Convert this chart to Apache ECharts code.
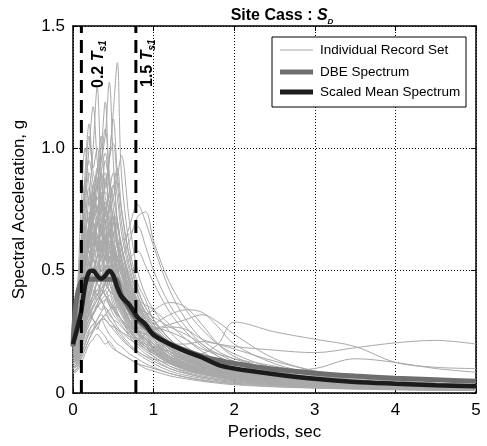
<!DOCTYPE html>
<html><head><meta charset="utf-8">
<script src="https://cdn.jsdelivr.net/npm/echarts@6/dist/echarts.min.js"></script>
<style>html,body{margin:0;padding:0;background:#fff}#c{width:487px;height:446px}</style>
</head><body><div id="c"></div>
<script>
const FONT = 'Liberation Sans, Arial, sans-serif';
// Periods (sec)
const T = [0,0.05,0.1,0.15,0.2,0.25,0.3,0.35,0.4,0.45,0.5,0.55,0.6,0.7,0.8,0.9,1.0,1.2,1.4,1.6,1.8,2.0,2.5,3.0,3.5,4.0,4.5,5.0];
// Individual records (Sa, g)
const recH1 = [0.22,0.26,0.35,0.45,0.5,0.62,0.7,0.8,0.72,0.95,1.15,1.35,0.9,0.6,0.45,0.38,0.3,0.22,0.16,0.12,0.1,0.08,0.06,0.045,0.035,0.03,0.025,0.02];
const recH2 = [0.25,0.3,0.42,0.55,0.6,0.75,0.85,0.95,1.05,1.27,0.95,0.7,0.6,0.45,0.35,0.3,0.26,0.19,0.15,0.12,0.1,0.085,0.06,0.045,0.035,0.03,0.025,0.02];
const recH3 = [0.2,0.25,0.45,0.65,0.8,1.0,1.25,0.9,0.75,0.65,0.55,0.5,0.45,0.35,0.3,0.26,0.22,0.16,0.12,0.1,0.08,0.07,0.05,0.04,0.03,0.025,0.02,0.018];
const recH4 = [0.18,0.22,0.35,0.5,0.7,0.85,0.9,1.0,1.19,0.85,0.7,0.6,0.5,0.4,0.32,0.27,0.23,0.17,0.13,0.11,0.09,0.075,0.055,0.04,0.032,0.027,0.022,0.018];
const recH5 = [0.24,0.3,0.55,0.8,1.0,1.17,0.95,0.8,0.7,0.6,0.55,0.45,0.4,0.32,0.26,0.22,0.19,0.14,0.11,0.09,0.075,0.065,0.045,0.035,0.028,0.023,0.019,0.016];
const recH6 = [0.3,0.35,0.6,0.9,1.1,0.9,0.85,0.7,0.6,0.55,0.5,0.42,0.38,0.3,0.24,0.2,0.17,0.13,0.1,0.085,0.07,0.06,0.045,0.035,0.028,0.024,0.02,0.017];
const recH7 = [0.2,0.24,0.4,0.55,0.65,0.8,0.9,1.05,0.8,0.75,0.6,0.55,0.5,0.42,0.36,0.3,0.25,0.18,0.14,0.11,0.09,0.08,0.06,0.045,0.035,0.03,0.025,0.02];
const recH8 = [0.15,0.18,0.28,0.4,0.5,0.6,0.7,0.75,0.85,0.95,1.12,0.9,0.75,0.55,0.42,0.35,0.3,0.22,0.17,0.13,0.11,0.09,0.065,0.05,0.04,0.033,0.027,0.022];
const recH9 = [0.28,0.4,0.75,1.0,0.85,0.7,0.6,0.5,0.48,0.42,0.38,0.33,0.3,0.24,0.2,0.17,0.15,0.11,0.09,0.075,0.065,0.055,0.04,0.03,0.024,0.02,0.017,0.015];
const recH10 = [0.16,0.2,0.3,0.38,0.45,0.5,0.6,0.65,0.7,0.75,0.8,0.88,0.97,0.7,0.5,0.4,0.34,0.25,0.19,0.15,0.12,0.1,0.07,0.055,0.045,0.038,0.03,0.025];
const recM1 = [0.22,0.28,0.45,0.6,0.7,0.8,0.92,0.75,0.65,0.55,0.5,0.45,0.4,0.32,0.26,0.22,0.19,0.14,0.11,0.09,0.075,0.065,0.045,0.035,0.028,0.023,0.019,0.016];
const recM2 = [0.2,0.25,0.4,0.5,0.62,0.7,0.75,0.85,0.9,0.7,0.6,0.5,0.45,0.38,0.3,0.25,0.21,0.15,0.12,0.1,0.08,0.07,0.05,0.04,0.032,0.026,0.021,0.018];
const recM3 = [0.12,0.15,0.25,0.35,0.45,0.55,0.6,0.7,0.75,0.8,0.85,0.7,0.6,0.45,0.35,0.3,0.26,0.19,0.15,0.12,0.1,0.085,0.06,0.045,0.035,0.03,0.025,0.02];
const recM4 = [0.25,0.3,0.5,0.7,0.8,0.7,0.65,0.6,0.55,0.5,0.45,0.4,0.35,0.28,0.23,0.19,0.16,0.12,0.095,0.08,0.065,0.055,0.04,0.03,0.024,0.02,0.017,0.014];
const recM5 = [0.18,0.22,0.35,0.45,0.55,0.65,0.7,0.68,0.6,0.65,0.72,0.6,0.5,0.38,0.3,0.26,0.22,0.17,0.13,0.11,0.09,0.075,0.055,0.042,0.034,0.028,0.023,0.019];
const recM6 = [0.14,0.17,0.25,0.35,0.4,0.5,0.55,0.62,0.65,0.6,0.58,0.55,0.52,0.4,0.32,0.27,0.24,0.18,0.14,0.11,0.095,0.08,0.06,0.045,0.036,0.03,0.025,0.021];
const recM7 = [0.3,0.35,0.55,0.75,0.9,0.8,0.7,0.6,0.5,0.45,0.4,0.35,0.32,0.26,0.21,0.18,0.15,0.11,0.085,0.07,0.06,0.05,0.037,0.028,0.022,0.018,0.015,0.013];
const recM8 = [0.2,0.24,0.35,0.5,0.6,0.65,0.7,0.8,0.82,0.78,0.65,0.55,0.48,0.38,0.31,0.26,0.22,0.16,0.125,0.1,0.085,0.072,0.052,0.04,0.032,0.026,0.022,0.018];
const recM9 = [0.1,0.12,0.2,0.3,0.38,0.45,0.5,0.55,0.62,0.7,0.65,0.6,0.55,0.45,0.37,0.31,0.27,0.2,0.16,0.13,0.11,0.09,0.065,0.05,0.04,0.033,0.028,0.023];
const recM10 = [0.22,0.27,0.42,0.55,0.65,0.6,0.68,0.72,0.6,0.5,0.45,0.4,0.37,0.3,0.25,0.21,0.18,0.13,0.1,0.085,0.07,0.06,0.045,0.034,0.027,0.022,0.019,0.016];
const recM11 = [0.26,0.32,0.5,0.62,0.58,0.55,0.5,0.48,0.45,0.42,0.4,0.36,0.33,0.27,0.22,0.19,0.17,0.13,0.1,0.085,0.07,0.06,0.045,0.035,0.028,0.023,0.019,0.016];
const recM12 = [0.16,0.19,0.3,0.42,0.5,0.58,0.62,0.6,0.55,0.6,0.65,0.68,0.6,0.48,0.38,0.32,0.27,0.2,0.15,0.12,0.1,0.085,0.062,0.048,0.038,0.031,0.026,0.022];
const recM13 = [0.19,0.23,0.38,0.52,0.6,0.68,0.6,0.55,0.58,0.52,0.45,0.38,0.34,0.28,0.24,0.21,0.19,0.15,0.12,0.1,0.085,0.072,0.055,0.042,0.034,0.028,0.023,0.019];
const recM14 = [0.13,0.16,0.24,0.32,0.4,0.46,0.52,0.58,0.6,0.66,0.6,0.52,0.45,0.36,0.3,0.26,0.23,0.17,0.13,0.11,0.09,0.075,0.055,0.042,0.034,0.028,0.023,0.019];
const recL1 = [0.1,0.12,0.18,0.25,0.3,0.35,0.38,0.4,0.42,0.38,0.35,0.32,0.3,0.25,0.21,0.18,0.16,0.12,0.095,0.08,0.065,0.055,0.04,0.03,0.024,0.02,0.017,0.014];
const recL2 = [0.12,0.14,0.2,0.28,0.32,0.3,0.28,0.3,0.32,0.3,0.28,0.26,0.24,0.2,0.17,0.15,0.13,0.1,0.08,0.065,0.055,0.047,0.035,0.027,0.022,0.018,0.015,0.013];
const recL3 = [0.15,0.18,0.26,0.35,0.42,0.48,0.45,0.42,0.4,0.36,0.32,0.3,0.28,0.23,0.19,0.16,0.14,0.1,0.08,0.065,0.055,0.046,0.034,0.026,0.021,0.017,0.014,0.012];
const recL4 = [0.11,0.13,0.19,0.24,0.28,0.32,0.36,0.4,0.45,0.5,0.48,0.44,0.4,0.32,0.26,0.22,0.19,0.14,0.11,0.09,0.075,0.062,0.045,0.035,0.028,0.023,0.019,0.016];
const recL5 = [0.14,0.16,0.22,0.3,0.36,0.4,0.42,0.38,0.35,0.33,0.3,0.27,0.25,0.22,0.2,0.18,0.16,0.13,0.1,0.085,0.07,0.06,0.043,0.033,0.026,0.021,0.018,0.015];
const recL6 = [0.17,0.2,0.3,0.4,0.45,0.42,0.4,0.38,0.34,0.3,0.28,0.25,0.23,0.19,0.16,0.14,0.12,0.09,0.072,0.06,0.05,0.043,0.032,0.025,0.02,0.016,0.014,0.012];
const recP1 = [0.15,0.17,0.22,0.28,0.32,0.35,0.38,0.42,0.45,0.5,0.52,0.55,0.58,0.68,0.77,0.7,0.6,0.42,0.3,0.22,0.17,0.14,0.09,0.065,0.05,0.04,0.034,0.028];
const recP2 = [0.12,0.14,0.2,0.26,0.3,0.32,0.36,0.4,0.42,0.45,0.48,0.5,0.55,0.62,0.72,0.74,0.62,0.45,0.34,0.26,0.2,0.16,0.1,0.07,0.055,0.045,0.038,0.03];
const recP3 = [0.18,0.21,0.28,0.35,0.4,0.45,0.5,0.48,0.5,0.55,0.58,0.6,0.62,0.65,0.68,0.6,0.5,0.36,0.27,0.2,0.16,0.13,0.085,0.06,0.047,0.038,0.032,0.026];
const recP4 = [0.14,0.16,0.22,0.28,0.33,0.38,0.4,0.45,0.5,0.52,0.5,0.5,0.52,0.55,0.58,0.52,0.45,0.33,0.25,0.19,0.15,0.12,0.08,0.058,0.045,0.037,0.03,0.025];
const recU1 = [0.1,0.12,0.16,0.2,0.24,0.26,0.28,0.3,0.32,0.34,0.35,0.35,0.34,0.32,0.3,0.32,0.34,0.37,0.35,0.28,0.2,0.15,0.09,0.065,0.05,0.04,0.033,0.028];
const recU2 = [0.12,0.14,0.2,0.25,0.3,0.32,0.35,0.38,0.4,0.42,0.4,0.38,0.35,0.3,0.27,0.26,0.28,0.32,0.34,0.33,0.27,0.2,0.12,0.08,0.06,0.048,0.04,0.033];
const recU3 = [0.08,0.1,0.14,0.18,0.22,0.25,0.28,0.3,0.3,0.28,0.27,0.26,0.25,0.23,0.22,0.24,0.26,0.28,0.3,0.32,0.29,0.24,0.14,0.09,0.065,0.05,0.04,0.034];
const recU4 = [0.16,0.18,0.25,0.32,0.36,0.4,0.45,0.48,0.5,0.45,0.42,0.4,0.38,0.33,0.3,0.28,0.26,0.27,0.26,0.22,0.2,0.18,0.13,0.09,0.065,0.05,0.04,0.034];
const recA = [0.14,0.16,0.22,0.3,0.35,0.4,0.42,0.45,0.4,0.38,0.35,0.32,0.3,0.25,0.22,0.2,0.19,0.17,0.15,0.16,0.2,0.29,0.25,0.22,0.19,0.125,0.105,0.1];
const recB = [0.12,0.14,0.2,0.26,0.3,0.33,0.35,0.37,0.38,0.36,0.34,0.32,0.3,0.27,0.25,0.24,0.23,0.2,0.2,0.21,0.2,0.19,0.175,0.165,0.185,0.205,0.215,0.2];
const recC = [0.1,0.12,0.17,0.22,0.26,0.28,0.3,0.32,0.3,0.28,0.26,0.24,0.22,0.19,0.17,0.15,0.14,0.12,0.11,0.1,0.095,0.09,0.09,0.1,0.14,0.125,0.1,0.085];
const recR1 = [0.2,0.26,0.42,0.58,0.52,0.66,0.6,0.74,0.62,0.55,0.6,0.5,0.42,0.34,0.27,0.23,0.2,0.15,0.115,0.095,0.08,0.068,0.05,0.038,0.03,0.025,0.021,0.018];
const recR2 = [0.17,0.21,0.33,0.48,0.62,0.55,0.7,0.64,0.78,0.66,0.58,0.5,0.45,0.36,0.29,0.24,0.21,0.16,0.12,0.1,0.085,0.07,0.052,0.04,0.032,0.026,0.022,0.018];
const recR3 = [0.23,0.29,0.48,0.66,0.72,0.6,0.64,0.55,0.5,0.56,0.48,0.42,0.37,0.3,0.25,0.21,0.18,0.135,0.105,0.088,0.074,0.062,0.046,0.035,0.028,0.023,0.019,0.016];
const recR4 = [0.14,0.17,0.27,0.38,0.46,0.55,0.5,0.6,0.68,0.72,0.64,0.7,0.55,0.42,0.34,0.29,0.25,0.19,0.145,0.115,0.095,0.08,0.058,0.045,0.036,0.03,0.025,0.021];
const recR5 = [0.26,0.33,0.56,0.78,0.7,0.85,0.74,0.66,0.58,0.62,0.52,0.45,0.4,0.32,0.26,0.22,0.19,0.14,0.11,0.09,0.076,0.064,0.047,0.036,0.029,0.024,0.02,0.017];
const recR6 = [0.19,0.23,0.36,0.5,0.58,0.5,0.56,0.62,0.54,0.58,0.5,0.44,0.41,0.33,0.27,0.23,0.2,0.15,0.115,0.095,0.08,0.067,0.05,0.038,0.03,0.025,0.021,0.018];
const recR7 = [0.21,0.25,0.4,0.55,0.68,0.78,0.88,0.8,0.95,0.85,0.7,0.62,0.55,0.42,0.33,0.28,0.24,0.18,0.135,0.11,0.09,0.076,0.056,0.043,0.034,0.028,0.023,0.019];
const recR8 = [0.13,0.16,0.26,0.36,0.44,0.4,0.47,0.52,0.46,0.5,0.45,0.4,0.36,0.3,0.25,0.22,0.2,0.15,0.12,0.1,0.085,0.072,0.053,0.041,0.033,0.027,0.022,0.019];
const recR9 = [0.27,0.34,0.58,0.82,0.95,0.86,0.75,0.82,0.68,0.6,0.52,0.46,0.42,0.34,0.28,0.24,0.2,0.15,0.115,0.095,0.08,0.068,0.05,0.038,0.03,0.025,0.021,0.018];
const recR10 = [0.16,0.2,0.31,0.43,0.52,0.62,0.72,0.66,0.74,0.82,0.9,0.8,0.66,0.5,0.4,0.33,0.28,0.21,0.16,0.13,0.105,0.088,0.064,0.049,0.039,0.032,0.027,0.022];
const recR11 = [0.22,0.27,0.44,0.6,0.66,0.74,0.68,0.78,0.7,0.64,0.7,0.6,0.52,0.4,0.32,0.27,0.23,0.17,0.13,0.105,0.088,0.074,0.054,0.042,0.033,0.027,0.023,0.019];
const recR12 = [0.11,0.13,0.21,0.3,0.37,0.44,0.4,0.46,0.52,0.48,0.55,0.5,0.46,0.38,0.31,0.26,0.23,0.17,0.135,0.11,0.09,0.076,0.056,0.043,0.034,0.028,0.023,0.02];
const recR13 = [0.24,0.3,0.5,0.7,0.84,0.72,0.8,0.7,0.62,0.66,0.56,0.48,0.42,0.33,0.27,0.23,0.2,0.15,0.115,0.094,0.078,0.066,0.048,0.037,0.03,0.024,0.02,0.017];
const recR14 = [0.18,0.22,0.34,0.46,0.56,0.64,0.58,0.68,0.76,0.7,0.62,0.56,0.5,0.4,0.32,0.27,0.23,0.17,0.13,0.105,0.088,0.074,0.054,0.042,0.033,0.027,0.023,0.019];
const recR15 = [0.15,0.18,0.28,0.4,0.48,0.56,0.64,0.58,0.62,0.54,0.48,0.43,0.39,0.32,0.26,0.22,0.19,0.145,0.11,0.09,0.076,0.064,0.047,0.036,0.029,0.024,0.02,0.017];
const recR16 = [0.2,0.24,0.38,0.52,0.6,0.7,0.82,0.9,0.84,0.96,1.02,0.86,0.7,0.52,0.4,0.33,0.28,0.21,0.16,0.125,0.1,0.085,0.062,0.048,0.038,0.031,0.026,0.021];
const recR17 = [0.28,0.36,0.6,0.84,1.05,0.92,1.0,0.86,0.74,0.66,0.58,0.5,0.45,0.36,0.29,0.25,0.21,0.16,0.12,0.1,0.082,0.07,0.051,0.039,0.031,0.026,0.021,0.018];
const recR18 = [0.12,0.15,0.24,0.34,0.42,0.5,0.56,0.62,0.58,0.66,0.74,0.68,0.6,0.47,0.37,0.31,0.27,0.2,0.155,0.125,0.1,0.085,0.062,0.048,0.038,0.031,0.026,0.021];
const recR19 = [0.25,0.31,0.5,0.68,0.6,0.7,0.64,0.58,0.52,0.47,0.43,0.39,0.35,0.29,0.24,0.2,0.175,0.13,0.1,0.083,0.07,0.059,0.043,0.033,0.026,0.021,0.018,0.015];
const recR20 = [0.17,0.2,0.3,0.42,0.5,0.46,0.54,0.5,0.56,0.62,0.57,0.52,0.48,0.39,0.32,0.27,0.24,0.18,0.14,0.115,0.095,0.08,0.058,0.045,0.036,0.03,0.025,0.021];
const recR21 = [0.21,0.26,0.41,0.56,0.64,0.76,0.86,0.95,1.08,0.9,0.76,0.64,0.56,0.43,0.34,0.29,0.25,0.185,0.14,0.115,0.094,0.079,0.058,0.045,0.035,0.029,0.024,0.02];
const recR22 = [0.14,0.17,0.26,0.35,0.41,0.46,0.52,0.48,0.44,0.47,0.42,0.38,0.35,0.29,0.24,0.21,0.18,0.14,0.11,0.09,0.075,0.063,0.046,0.035,0.028,0.023,0.019,0.016];
const recR23 = [0.19,0.24,0.4,0.56,0.7,0.82,0.74,0.9,0.98,0.86,0.8,0.7,0.6,0.46,0.36,0.3,0.26,0.19,0.145,0.118,0.096,0.081,0.059,0.045,0.036,0.029,0.024,0.02];
const recR24 = [0.23,0.28,0.44,0.62,0.74,0.66,0.6,0.68,0.56,0.5,0.46,0.41,0.37,0.3,0.25,0.21,0.185,0.14,0.107,0.088,0.074,0.062,0.045,0.035,0.028,0.023,0.019,0.016];
const recR25 = [0.1,0.12,0.19,0.27,0.34,0.4,0.46,0.52,0.56,0.62,0.58,0.54,0.5,0.44,0.38,0.33,0.29,0.22,0.17,0.135,0.11,0.092,0.067,0.051,0.04,0.033,0.027,0.023];
const recR26 = [0.16,0.19,0.29,0.4,0.48,0.54,0.5,0.58,0.64,0.58,0.52,0.47,0.43,0.36,0.3,0.26,0.23,0.18,0.14,0.115,0.096,0.082,0.06,0.046,0.037,0.03,0.025,0.021];
const recR27 = [0.29,0.37,0.62,0.86,0.78,0.7,0.62,0.56,0.5,0.45,0.41,0.37,0.33,0.27,0.22,0.19,0.165,0.125,0.097,0.08,0.067,0.057,0.042,0.032,0.025,0.021,0.017,0.015];
const recR28 = [0.18,0.22,0.36,0.5,0.62,0.72,0.8,0.74,0.88,0.78,0.72,0.62,0.54,0.42,0.33,0.28,0.24,0.18,0.135,0.11,0.09,0.076,0.056,0.043,0.034,0.028,0.023,0.019];
const recR29 = [0.13,0.16,0.25,0.34,0.38,0.42,0.38,0.42,0.4,0.37,0.34,0.31,0.29,0.26,0.24,0.22,0.2,0.16,0.13,0.105,0.088,0.075,0.055,0.042,0.034,0.028,0.023,0.019];
const recR30 = [0.2,0.25,0.4,0.55,0.65,0.75,0.85,0.78,0.7,0.76,0.84,0.92,0.76,0.56,0.43,0.35,0.3,0.22,0.165,0.13,0.105,0.088,0.064,0.049,0.039,0.032,0.027,0.022];
const recR31 = [0.15,0.18,0.26,0.34,0.4,0.44,0.48,0.5,0.52,0.5,0.48,0.46,0.44,0.41,0.38,0.36,0.34,0.28,0.22,0.17,0.13,0.1,0.065,0.048,0.038,0.031,0.026,0.022];
const recR32 = [0.12,0.14,0.2,0.27,0.32,0.36,0.4,0.43,0.45,0.47,0.46,0.44,0.42,0.38,0.35,0.33,0.31,0.27,0.24,0.2,0.15,0.12,0.075,0.052,0.04,0.032,0.027,0.022];
const recR33 = [0.14,0.17,0.24,0.3,0.35,0.38,0.42,0.4,0.44,0.42,0.4,0.38,0.36,0.33,0.3,0.28,0.27,0.25,0.22,0.18,0.16,0.14,0.11,0.075,0.055,0.042,0.035,0.029];
const recR34 = [0.08,0.09,0.12,0.16,0.2,0.22,0.24,0.22,0.2,0.21,0.19,0.17,0.16,0.14,0.12,0.1,0.09,0.07,0.058,0.048,0.04,0.034,0.025,0.02,0.016,0.013,0.011,0.01];
const recR35 = [0.1,0.11,0.15,0.2,0.25,0.28,0.26,0.3,0.27,0.24,0.22,0.2,0.19,0.16,0.14,0.12,0.105,0.08,0.064,0.052,0.044,0.037,0.027,0.021,0.017,0.014,0.012,0.01];
const recR36 = [0.09,0.1,0.14,0.18,0.22,0.26,0.3,0.33,0.35,0.32,0.3,0.29,0.27,0.24,0.21,0.19,0.17,0.13,0.1,0.082,0.068,0.057,0.041,0.031,0.025,0.02,0.017,0.014];
const recR37 = [0.13,0.15,0.22,0.3,0.34,0.3,0.27,0.25,0.23,0.2,0.18,0.17,0.16,0.14,0.12,0.11,0.1,0.08,0.065,0.054,0.046,0.04,0.03,0.023,0.019,0.015,0.013,0.011];
const recR38 = [0.11,0.13,0.18,0.24,0.28,0.32,0.36,0.34,0.38,0.4,0.36,0.33,0.3,0.26,0.22,0.19,0.17,0.125,0.095,0.078,0.064,0.054,0.039,0.03,0.024,0.019,0.016,0.014];
const records = [recH1,recH2,recH3,recH4,recH5,recH6,recH7,recH8,recH9,recH10,
  recM1,recM2,recM3,recM4,recM5,recM6,recM7,recM8,recM9,recM10,recM11,recM12,recM13,recM14,
  recL1,recL2,recL3,recL4,recL5,recL6,recP1,recP2,recP3,recP4,recU1,recU2,recU3,recU4,recA,recB,recC,
  recR1,recR2,recR3,recR4,recR5,recR6,recR7,recR8,recR9,recR10,recR11,recR12,recR13,recR14,recR15,
  recR16,recR17,recR18,recR19,recR20,recR21,recR22,recR23,recR24,recR25,recR26,recR27,recR28,recR29,recR30,
  recR31,recR32,recR33,recR34,recR35,recR36,recR37,recR38];
// DBE design spectrum
const T_dbe = [0,0.13,0.52,0.6,0.7,0.8,0.9,1.0,1.2,1.4,1.6,1.8,2.0,2.5,3.0,3.5,4.0,4.5,5.0];
const dbe = [0.19,0.465,0.465,0.40,0.345,0.30,0.27,0.242,0.2,0.173,0.15,0.134,0.121,0.097,0.081,0.069,0.06,0.054,0.048];
// Scaled mean spectrum (same periods as records)
const mean = [0.2,0.26,0.33,0.44,0.495,0.5,0.48,0.467,0.48,0.5,0.48,0.43,0.395,0.36,0.31,0.28,0.237,0.2,0.17,0.145,0.115,0.1,0.077,0.058,0.045,0.038,0.032,0.028];
// Marker periods
const T02 = 0.104, T15 = 0.78;
const xTicks = [0,1,2,3,4,5];

const zip = (xs, ys) => xs.map((x, i) => [x, ys[i]]);
const chart = echarts.init(document.getElementById('c'));
const series = [];
records.forEach(r => series.push({
  type:'line', name:'Individual Record Set', data: zip(T, r), showSymbol:false, symbol:'none', smooth:0.35,
  lineStyle:{color:'#a9a9a9', width:1}, z:2, silent:true, animation:false
}));
series.push({type:'line', name:'DBE Spectrum', data: zip(T_dbe, dbe), symbol:'none', smooth:0.3,
  lineStyle:{color:'#6e6e6e', width:5}, z:3, animation:false});
series.push({type:'line', name:'Scaled Mean Spectrum', data: zip(T, mean), symbol:'none', smooth:0.3,
  lineStyle:{color:'#1c1c1c', width:4.5}, z:4, animation:false});
[T02, T15].forEach(t => series.push({type:'line', data:[[t,0],[t,1.5]], symbol:'none',
  lineStyle:{color:'#000', width:3, type:[13,7]}, z:5, animation:false}));

const axisCommon = {
  axisLine:{show:true, onZero:false, lineStyle:{color:'#000', width:1.5}},
  axisTick:{show:true, inside:true, length:5, lineStyle:{color:'#000', width:1}},
};
chart.setOption({
  animation:false,
  backgroundColor:'#fff',
  title:{
    text:'{a|Site Cass : }{s|S}{d|D}', left:277, top:1, textAlign:'center',
    textStyle:{rich:{
      a:{fontFamily:FONT, fontWeight:'bold', fontSize:16, color:'#000', lineHeight:20},
      s:{fontFamily:FONT, fontWeight:'bold', fontStyle:'italic', fontSize:16, color:'#000', lineHeight:20},
      d:{fontFamily:FONT, fontWeight:'bold', fontStyle:'italic', fontSize:8, color:'#000', lineHeight:20, verticalAlign:'bottom', padding:[6,0,0,0]}
    }}
  },
  grid:{left:73, right:11, top:26, bottom:51, containLabel:false},
  xAxis:[{
    type:'value', min:0, max:5, interval:1, position:'bottom', ...axisCommon,
    name:'Periods, sec', nameLocation:'middle', nameGap:31,
    nameTextStyle:{fontFamily:FONT, fontSize:17, color:'#000'},
    axisLabel:{fontFamily:FONT, fontSize:17, color:'#000', margin:9,
      formatter: v => xTicks.includes(v) ? String(v) : ''},
    splitLine:{show:true, lineStyle:{color:'#000', width:1, type:[1,2]}}
  },{
    type:'value', min:0, max:5, interval:1, position:'top', ...axisCommon,
    axisLabel:{show:false}, splitLine:{show:false}
  }],
  yAxis:[{
    type:'value', min:0, max:1.5, interval:0.5, position:'left', ...axisCommon,
    name:'Spectral Acceleration, g', nameLocation:'middle', nameGap:45,
    nameTextStyle:{fontFamily:FONT, fontSize:17, color:'#000'},
    axisLabel:{fontFamily:FONT, fontSize:17, color:'#000', margin:8,
      formatter: v => v === 0 ? '0' : v.toFixed(1)},
    splitLine:{show:true, lineStyle:{color:'#000', width:1, type:[1,2]}}
  },{
    type:'value', min:0, max:1.5, interval:0.5, position:'right', ...axisCommon,
    axisLabel:{show:false}, splitLine:{show:false}
  }],
  series
});

// Annotations and legend
const p02 = chart.convertToPixel({xAxisIndex:0, yAxisIndex:0}, [T02, 1.5]);
const p15 = chart.convertToPixel({xAxisIndex:0, yAxisIndex:0}, [T15, 1.5]);
const annRich = {
  n:{fontFamily:FONT, fontWeight:'bold', fontSize:16, fill:'#000', lineHeight:19},
  t:{fontFamily:FONT, fontWeight:'bold', fontStyle:'italic', fontSize:16, fill:'#000', lineHeight:19},
  s:{fontFamily:FONT, fontWeight:'bold', fontStyle:'italic', fontSize:10, fill:'#000', lineHeight:19, verticalAlign:'bottom', padding:[6,0,0,0]}
};
const lx = 272, ly = 37, lw = 194, lh = 70;
chart.setOption({graphic:[
  {type:'text', x:p02[0] + 17, y:p02[1] + 62, rotation:Math.PI/2, z:20,
    style:{text:'{n|0.2 }{t|T}{s|s1}', rich:annRich, align:'left', verticalAlign:'middle'}},
  {type:'text', x:p15[0] + 12, y:p15[1] + 61, rotation:Math.PI/2, z:20,
    style:{text:'{n|1.5 }{t|T}{s|s1}', rich:annRich, align:'left', verticalAlign:'middle'}},
  {type:'rect', shape:{x:lx, y:ly, width:lw, height:lh}, style:{fill:'#fff', stroke:'#000', lineWidth:1}, z:30},
  {type:'line', shape:{x1:lx+8, y1:ly+13, x2:lx+41, y2:ly+13}, style:{stroke:'#a9a9a9', lineWidth:1}, z:31},
  {type:'line', shape:{x1:lx+8, y1:ly+35, x2:lx+41, y2:ly+35}, style:{stroke:'#6e6e6e', lineWidth:5}, z:31},
  {type:'line', shape:{x1:lx+8, y1:ly+55, x2:lx+41, y2:ly+55}, style:{stroke:'#1c1c1c', lineWidth:5}, z:31},
  {type:'text', x:lx+48, y:ly+13, z:31, style:{text:'Individual Record Set', fontFamily:FONT, fontSize:13.5, fill:'#000', verticalAlign:'middle'}},
  {type:'text', x:lx+48, y:ly+35, z:31, style:{text:'DBE Spectrum', fontFamily:FONT, fontSize:13.5, fill:'#000', verticalAlign:'middle'}},
  {type:'text', x:lx+48, y:ly+55, z:31, style:{text:'Scaled Mean Spectrum', fontFamily:FONT, fontSize:13.5, fill:'#000', verticalAlign:'middle'}}
]});
</script></body></html>
